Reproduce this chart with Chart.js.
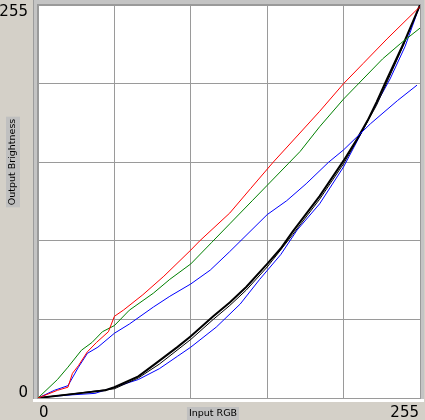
<!DOCTYPE html>
<html>
<head>
<meta charset="utf-8">
<script src="https://cdn.jsdelivr.net/npm/chart.js@4.4.1/dist/chart.umd.min.js"></script>
<style>
  body { margin: 0; background: #d4d0c8; }
  #wrap { width: 425px; height: 420px; }
</style>
</head>
<body>
<div id="wrap"><canvas id="myChart" width="425" height="420"></canvas></div>
<script>
// curves (input 0-255 -> output 0-255)
const redIn = [0, 13, 20, 23, 27, 33, 39, 47, 51, 57, 70, 84, 102, 108, 128, 142, 157, 173, 188, 204, 217, 233, 255];
const redOut = [0, 5, 7, 16, 21, 30, 36, 43, 53, 57, 67, 79, 96, 102, 120, 136, 153, 170, 186, 204, 217, 233, 254];

const greenIn = [0, 13, 20, 29, 36, 43, 51, 61, 77, 88, 102, 116, 128, 143, 153, 167, 175, 188, 204, 213, 230, 242, 255];
const greenOut = [0, 12, 20, 31, 36, 43, 47, 57, 68, 77, 87, 101, 113, 128, 138, 152, 160, 176, 194, 203, 220, 230, 240];

const blueIn = [0, 11, 20, 27, 33, 40, 51, 61, 77, 88, 102, 115, 128, 153, 166, 179, 194, 204, 222, 240, 253];
const blueOut = [0, 5, 8, 20, 29, 33, 42, 48, 59, 66, 74, 83, 95, 119, 128, 139, 153, 161, 178, 193, 203];

const blackIn = [0, 27, 45, 51, 67, 78, 93, 102, 117, 128, 139, 153, 162, 170, 188, 204, 213, 220, 226, 233, 244, 255];
const blackOut = [0, 3, 5, 7, 14, 22, 33, 40, 53, 62, 72, 87, 97, 108, 131, 154, 168, 180, 192, 207, 230, 255];

const black2In = [0, 51, 67, 81, 102, 117, 128, 139, 153, 170, 188, 204, 217, 226, 233, 244, 255];
const black2Out = [0, 6, 13, 22, 38, 51, 60, 70, 85, 106, 129, 152, 174, 190, 205, 229, 255];

const blue2In = [0, 9, 22, 38, 51, 67, 81, 93, 102, 119, 135, 148, 162, 173, 188, 204, 217, 226, 235, 245, 255];
const blue2Out = [0, 1, 2, 3, 7, 12, 19, 27, 33, 46, 61, 77, 93, 109, 126, 150, 174, 191, 207, 228, 255];

const xTickLabels = ["0", "255"];
const yTickLabels = ["0", "255"];
const xTitle = "Input RGB";
const yTitle = "Output Brightness";

function pts(xs, ys) {
     let out = [];
     for (let i = 0; i < xs.length; i++) {
          out.push({ x: xs[i], y: ys[i] });
     }
     return out;
}

function line(data, color, width) {
     return {
          data: data,
          borderColor: color,
          borderWidth: width,
          pointRadius: 0,
          tension: 0,
          fill: false
     };
}

const frame = {
     id: "frame",
     beforeDraw(chart) {
          const c = chart.ctx;
          const a = chart.chartArea;
          c.save();
          c.fillStyle = "#d4d0c8";
          c.fillRect(0, 0, chart.width, chart.height);
          // sunken frame round the plot
          c.fillStyle = "#c4c4c4";
          c.fillRect(a.left - 5, a.top - 5, a.right - a.left + 9, a.bottom - a.top + 9);
          c.fillStyle = "#9c9c9c";
          c.fillRect(a.left - 5, a.top - 5, 1, a.bottom - a.top + 9);
          c.fillStyle = "#ffffff";
          c.fillRect(a.left - 5, a.bottom + 1, a.right - a.left + 9, 3);
          c.fillStyle = "#ffffff";
          c.fillRect(a.left, a.top, a.right - a.left, a.bottom - a.top);
          c.restore();
     },
     afterDatasetsDraw(chart) {
          const c = chart.ctx;
          const a = chart.chartArea;
          const xs = chart.scales.x;
          const ys = chart.scales.y;
          c.save();
          c.strokeStyle = "#9a9a9a";
          c.lineWidth = 1;
          c.strokeRect(a.left - 0.5, a.top - 0.5, a.right - a.left + 1, a.bottom - a.top + 1);

          c.fillStyle = "#000";
          c.font = "15px 'DejaVu Sans'";
          c.textBaseline = "alphabetic";
          c.textAlign = "right";
          c.fillText(yTickLabels[1], 28, ys.getPixelForValue(255) + 11);
          c.fillText(yTickLabels[0], 28, ys.getPixelForValue(0) - 1);
          c.textAlign = "left";
          c.fillText(xTickLabels[0], xs.getPixelForValue(0) + 1, 417);
          c.textAlign = "right";
          c.fillText(xTickLabels[1], xs.getPixelForValue(255) - 1, 417);

          c.font = "9.5px 'DejaVu Sans'";
          c.textAlign = "center";
          c.textBaseline = "middle";
          let w = c.measureText(xTitle).width;
          c.fillStyle = "#c0c0c0";
          c.fillRect(213 - w / 2 - 2, 407, w + 4, 13);
          c.fillStyle = "#000";
          c.fillText(xTitle, 213, 414);

          c.translate(13, 162);
          c.rotate(-Math.PI / 2);
          w = c.measureText(yTitle).width;
          c.fillStyle = "#c0c0c0";
          c.fillRect(-w / 2 - 2, -7, w + 4, 14);
          c.fillStyle = "#000";
          c.fillText(yTitle, 0, 0);
          c.restore();
     }
};

const ctx = document.getElementById("myChart").getContext("2d");
new Chart(ctx, {
     type: "line",
     data: {
          datasets: [
               line(pts(redIn, redOut), "#ff0000", 1),
               line(pts(greenIn, greenOut), "#008000", 1),
               line(pts(blueIn, blueOut), "#0000ff", 1),
               line(pts(blackIn, blackOut), "#000000", 2),
               line(pts(black2In, black2Out), "#000000", 1),
               line(pts(blue2In, blue2Out), "#0000ff", 1)
          ]
     },
     options: {
          responsive: false,
          animation: false,
          layout: { padding: { left: 38, top: 5, right: 5, bottom: 22 } },
          plugins: { legend: { display: false }, tooltip: { enabled: false } },
          scales: {
               x: {
                    type: "linear",
                    min: 0,
                    max: 255,
                    ticks: { display: false, stepSize: 51 },
                    grid: { color: "#9a9a9a", drawTicks: false },
                    border: { display: false }
               },
               y: {
                    type: "linear",
                    min: 0,
                    max: 255,
                    ticks: { display: false, stepSize: 51 },
                    grid: { color: "#9a9a9a", drawTicks: false },
                    border: { display: false }
               }
          }
     },
     plugins: [frame]
});
</script>
</body>
</html>
